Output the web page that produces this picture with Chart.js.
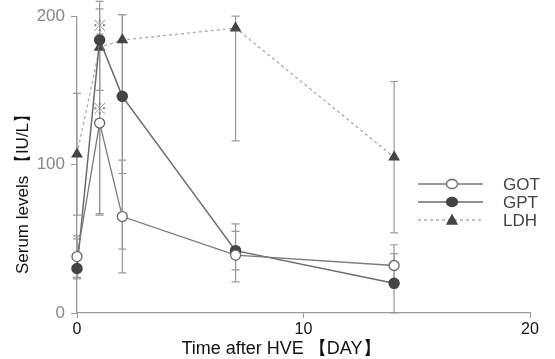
<!DOCTYPE html>
<html>
<head>
<meta charset="utf-8">
<script src="https://cdn.jsdelivr.net/npm/chart.js@4/dist/chart.umd.min.js"></script>
<style>
  html, body { margin: 0; padding: 0; background: #fff; }
  #wrap { width: 555px; height: 359px; }
</style>
</head>
<body>
<div id="wrap"><canvas id="chart" width="555" height="359"></canvas></div>
<script>
/* ---------- data ---------- */
const days = [0, 1, 2, 7, 14]
const seriesNames = ["GOT", "GPT", "LDH"]

const gotValues = [38, 128, 65, 39, 32]
const gotHigh   = [52, 188, 103, 60, 46]
const gotLow    = [24, 67, 27, 21, 18]

const gptValues = [30, 184, 146, 42, 20]
const gptHigh   = [50, 210, 201, 55, 40]
const gptLow    = [23, 66, 94, 29, 0]

const ldhValues = [107, 179, 184, 192, 105]
const ldhHigh   = [148, 205, 201, 200, 156]
const ldhLow    = [66, 150, 43, 116, 54]

const xTicks = [0, 10, 20]
const yTicks = [0, 100, 200]

const xTitle = "Time after HVE 【DAY】"
const yTitle = "Serum levels 【IU/L】"

// significance marks (day, level)
const starDays = [1, 1]
const starLevels = [194, 138]

/* ---------- helpers ---------- */
const pts = (vals) => days.map((d, i) => ({ x: d, y: vals[i] }))
const FONT = "'Liberation Sans', Arial, sans-serif"

const datasets = [
  {
    label: seriesNames[0], data: pts(gotValues), hi: gotHigh, lo: gotLow,
    borderColor: "#7a7a7a", borderWidth: 1.3, pointStyle: "circle",
    pointRadius: 5, pointBackgroundColor: "#fff", pointBorderColor: "#666",
    pointBorderWidth: 1.3, clip: false
  },
  {
    label: seriesNames[1], data: pts(gptValues), hi: gptHigh, lo: gptLow,
    borderColor: "#6a6a6a", borderWidth: 1.5, pointStyle: "circle",
    pointRadius: 5, pointBackgroundColor: "#444", pointBorderColor: "#444",
    clip: false
  },
  {
    label: seriesNames[2], data: pts(ldhValues), hi: ldhHigh, lo: ldhLow,
    borderColor: "#aaa", borderWidth: 1.3, borderDash: [3, 3],
    pointStyle: "triangle", pointRadius: 5.5, pointBackgroundColor: "#444",
    pointBorderColor: "#444", clip: false
  }
]

/* ---------- plugins ---------- */
const errorBars = {
  id: "errorBars",
  beforeDatasetsDraw(chart) {
    const { ctx, scales: { x, y } } = chart
    ctx.save()
    ctx.strokeStyle = "#9a9a9a"
    ctx.lineWidth = 1.2
    chart.data.datasets.forEach(ds => {
      ds.data.forEach((p, i) => {
        const px = x.getPixelForValue(p.x)
        const top = y.getPixelForValue(ds.hi[i])
        const bot = y.getPixelForValue(ds.lo[i])
        ctx.beginPath()
        ctx.moveTo(px, top); ctx.lineTo(px, bot)
        ctx.moveTo(px - 4, top); ctx.lineTo(px + 4, top)
        ctx.moveTo(px - 4, bot); ctx.lineTo(px + 4, bot)
        ctx.stroke()
      })
    })
    ctx.restore()
  }
}

const extras = {
  id: "extras",
  afterDraw(chart) {
    const { ctx, scales: { x, y } } = chart
    ctx.save()
    // stars
    ctx.fillStyle = "#888"
    ctx.font = "15px 'Noto Sans CJK JP', sans-serif"
    ctx.textAlign = "center"
    ctx.textBaseline = "middle"
    starDays.forEach((d, i) => {
      ctx.fillText("※", x.getPixelForValue(d), y.getPixelForValue(starLevels[i]))
    })

    // axis titles
    ctx.fillStyle = "#111"
    ctx.font = "18px " + FONT
    ctx.textBaseline = "alphabetic"
    ctx.fillText(xTitle, 281, 354)
    ctx.save()
    ctx.translate(28, 190)
    ctx.rotate(-Math.PI / 2)
    ctx.font = "17px " + FONT
    ctx.fillText(yTitle, 0, 0)
    ctx.restore()

    // legend
    const lx0 = 418, lx1 = 483, mx = 452, ty0 = 184, gap = 18
    chart.data.datasets.forEach((ds, i) => {
      const ly = ty0 + i * gap
      ctx.strokeStyle = ds.borderColor
      ctx.lineWidth = ds.borderWidth
      ctx.setLineDash(ds.borderDash || [])
      ctx.beginPath(); ctx.moveTo(lx0, ly); ctx.lineTo(lx1, ly); ctx.stroke()
      ctx.setLineDash([])
      ctx.fillStyle = ds.pointBackgroundColor
      ctx.strokeStyle = ds.pointBorderColor
      ctx.lineWidth = 1.3
      ctx.beginPath()
      if (ds.pointStyle === "triangle") {
        ctx.moveTo(mx, ly - 5); ctx.lineTo(mx + 5, ly + 4); ctx.lineTo(mx - 5, ly + 4); ctx.closePath()
      } else {
        ctx.ellipse(mx, ly, 5.5, 4.5, 0, 0, Math.PI * 2)
      }
      ctx.fill(); ctx.stroke()
      ctx.fillStyle = "#444"
      ctx.font = "17px " + FONT
      ctx.textAlign = "left"
      ctx.textBaseline = "middle"
      ctx.fillText(ds.label, 503, ly + 1)
    })
    ctx.restore()
  }
}

/* ---------- chart ---------- */
new Chart(document.getElementById("chart"), {
  type: "line",
  data: { datasets },
  options: {
    responsive: false,
    animation: false,
    layout: { padding: { top: 15, right: 25, left: 0, bottom: 0 } },
    plugins: { legend: { display: false }, tooltip: { enabled: false } },
    scales: {
      x: {
        type: "linear", min: 0, max: 20,
        afterBuildTicks: s => { s.ticks = xTicks.map(v => ({ value: v })) },
        afterFit: s => { s.height = 46 },
        grid: { drawOnChartArea: false, tickLength: 5, color: "#999" },
        border: { color: "#999", width: 1.3 },
        ticks: { color: "#111", font: { size: 16, family: FONT }, padding: 2, maxRotation: 0 }
      },
      y: {
        min: 0, max: 200,
        afterBuildTicks: s => { s.ticks = yTicks.map(v => ({ value: v })) },
        afterFit: s => { s.width = 77 },
        grid: { drawOnChartArea: false, tickLength: 6, color: "#999" },
        border: { color: "#999", width: 1.3 },
        ticks: { color: "#888", font: { size: 17, family: FONT }, padding: 6 }
      }
    }
  },
  plugins: [errorBars, extras]
})
</script>
</body>
</html>
